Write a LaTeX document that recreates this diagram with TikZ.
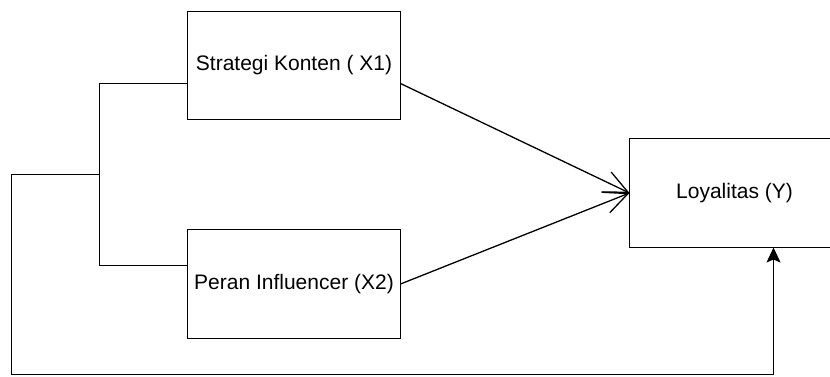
\documentclass[tikz,border=0pt]{standalone}
\usepackage{fontspec}
\setmainfont{Liberation Sans}
\usetikzlibrary{arrows.meta}
\begin{document}
\begin{tikzpicture}[x=1bp,y=-1bp,
  box/.style={draw, line width=1.3bp, inner sep=0pt, outer sep=0pt, font=\fontsize{21bp}{25bp}\selectfont},
  conn/.style={line width=1.3bp},
  openarr/.style={conn, -{Straight Barb[length=24bp,width=22bp,line width=1.3bp]}},
  filledarr/.style={conn, -{Stealth[length=15bp,width=14bp,inset=3bp]}}]
\useasboundingbox (0,0) rectangle (830,376);
\clip (0,0) rectangle (830,376);
\begin{scope}[shift={(0.5,0.5)}]
\node[box, minimum width=213bp, minimum height=108bp] (b1) at (293.5,65) {Strategi Konten ( X1)};
\node[box, minimum width=213bp, minimum height=109bp] (b2) at (293.5,283.5) {Peran Influencer (X2)};
\node[box, draw=none, minimum width=210bp, minimum height=109bp] (bY) at (734,192.5) {Loyalitas (Y)};
\draw[conn] ([xshift=40bp]bY.north east) -- (bY.north west) -- (bY.south west) -- ([xshift=40bp]bY.south east);
\coordinate (j) at (99,174);
\coordinate (bl) at (11,374);
\draw[conn] ([yshift=-18bp]b1.west) -| (j) |- ([yshift=18.5bp]b2.west);
\draw[filledarr] (j) -| (bl) -| ([xshift=39bp]bY.south);
\draw[openarr] ([yshift=-18bp]b1.east) -- (bY.west);
\draw[openarr] (b2.east) -- (bY.west);
\end{scope}
\end{tikzpicture}
\end{document}
